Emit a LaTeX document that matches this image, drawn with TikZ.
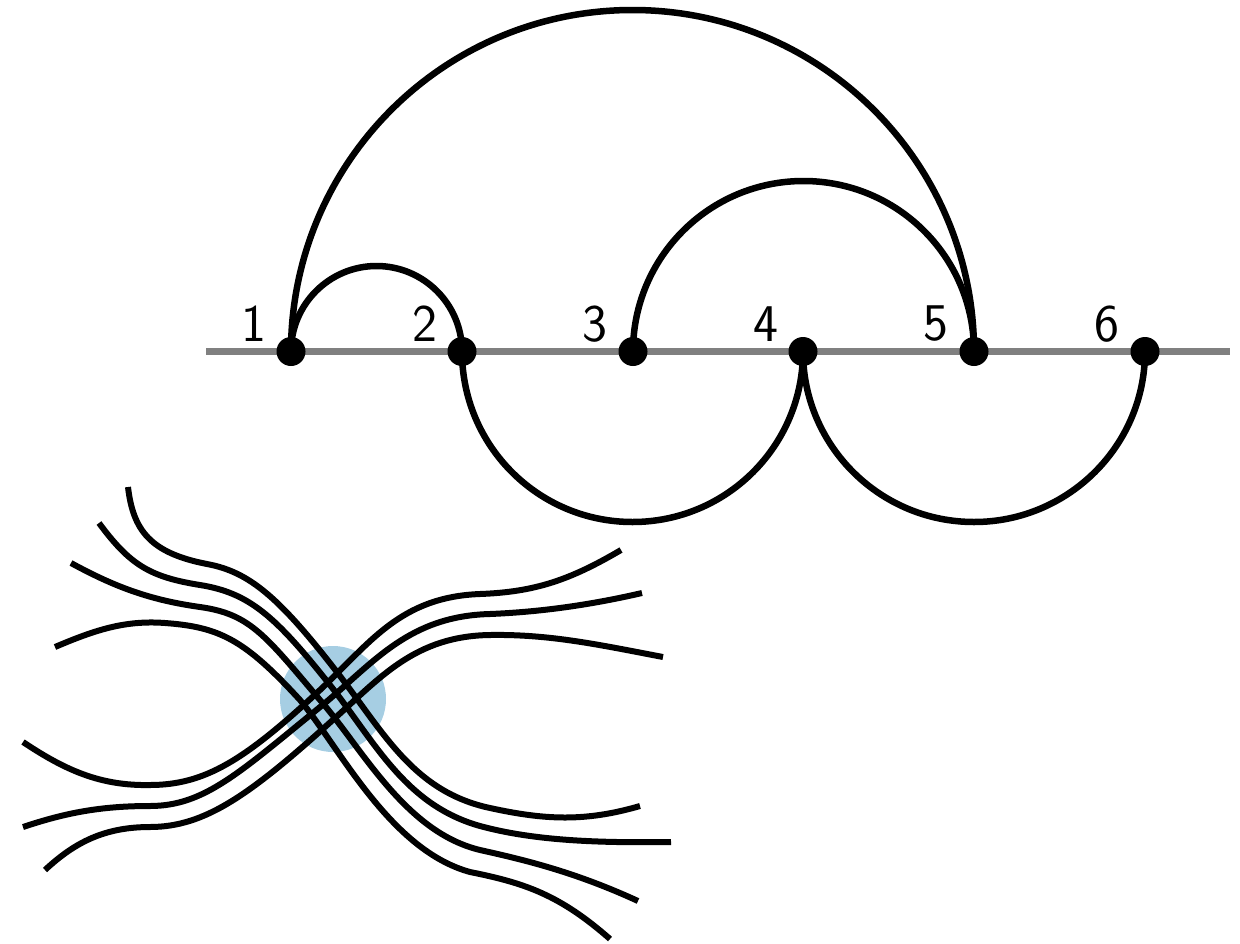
\documentclass[tikz,border=0pt]{standalone}
\definecolor{hub}{HTML}{A6CEE3}
\definecolor{axis}{HTML}{808080}
\tikzset{
  dot/.style={circle,fill=black,inner sep=0pt,minimum size=29pt},
  num/.style={font=\fontsize{53}{53}\selectfont\sffamily,inner sep=0pt,text=black},
  chord/.style={line width=6.5pt,black},
  strand/.style={line width=6pt,black},
  axisline/.style={line width=6.8pt,axis},
  q/.style={distance=#1}
}
\begin{document}
\begin{tikzpicture}[x=1pt,y=-1pt]
\useasboundingbox (0,0) rectangle (1240,943);
\fill[hub] (333,699) ellipse[x radius=53,y radius=53];
\coordinate (L) at (206,351.5);
\coordinate (R) at (1230,351.5);
\draw[axisline] (L) -- (R);
\node[dot] (n1) at (291,351.5) {};
\node[dot] (n2) at (462,351.5) {};
\node[dot] (n3) at (633,351.5) {};
\node[dot] (n4) at (803,351.5) {};
\node[dot] (n5) at (974,351.5) {};
\node[dot] (n6) at (1145,351.5) {};
\node[num] (l1) at (254,324) {1};
\node[num] (l2) at (425,324) {2};
\node[num] (l3) at (595,324) {3};
\node[num] (l4) at (766,324) {4};
\node[num] (l5) at (936,324) {5};
\node[num] (l6) at (1107,324) {6};
\coordinate (a15) at (632.5,10);
\coordinate (a12) at (376.5,266);
\coordinate (a35) at (803.5,181);
\coordinate (a24) at (632.5,522);
\coordinate (a46) at (974,522);
\draw[chord] (n1.center) to[out=90,in=180,q=188.6] (a15) to[out=0,in=90,q=188.6] (n5.center);
\draw[chord] (n1.center) to[out=90,in=180,q=47.2] (a12) to[out=0,in=90,q=47.2] (n2.center);
\draw[chord] (n3.center) to[out=90,in=180,q=94.2] (a35) to[out=0,in=90,q=94.2] (n5.center);
\draw[chord] (n2.center) to[out=-90,in=180,q=94.2] (a24) to[out=0,in=-90,q=94.2] (n4.center);
\draw[chord] (n4.center) to[out=-90,in=180,q=94.2] (a46) to[out=0,in=-90,q=94.2] (n6.center);
% upper left to lower right
\draw[strand] (128,487) .. controls (133,530) and (150,553) .. (207,564)
  .. controls (250,572) and (280,598) .. (340,676)
  .. controls (385,735) and (415,792) .. (490,808)
  .. controls (545,820) and (585,822) .. (640,806);
\draw[strand] (99,523) .. controls (130,565) and (150,577) .. (200,585)
  .. controls (250,593) and (276,617) .. (330,685)
  .. controls (375,742) and (405,805) .. (480,826)
  .. controls (535,841) and (600,843) .. (671,842);
\draw[strand] (71,563) .. controls (115,587) and (150,600) .. (200,607)
  .. controls (250,614) and (265,635) .. (320,700)
  .. controls (362,748) and (405,832) .. (480,850)
  .. controls (525,860) and (575,872) .. (638,901);
\draw[strand] (55,647) .. controls (95,630) and (125,620) .. (165,623)
  .. controls (220,627) and (245,640) .. (300,700)
  .. controls (340,748) and (390,850) .. (470,872)
  .. controls (525,883) and (560,895) .. (610,939);
% lower left to upper right
\draw[strand] (23,742) .. controls (65,770) and (100,786) .. (150,785)
  .. controls (205,785) and (245,760) .. (320,690)
  .. controls (370,643) and (400,597) .. (480,594)
  .. controls (535,592) and (570,580) .. (621,550);
\draw[strand] (23,827) .. controls (65,813) and (100,806) .. (150,806)
  .. controls (205,806) and (240,772) .. (325,703)
  .. controls (375,661) and (410,616) .. (490,614)
  .. controls (540,612) and (590,605) .. (642,593);
\draw[strand] (45,870) .. controls (75,842) and (105,827) .. (150,827)
  .. controls (205,827) and (250,795) .. (335,718)
  .. controls (380,678) and (415,636) .. (490,635)
  .. controls (550,634) and (600,645) .. (663,657);
\end{tikzpicture}
\end{document}
